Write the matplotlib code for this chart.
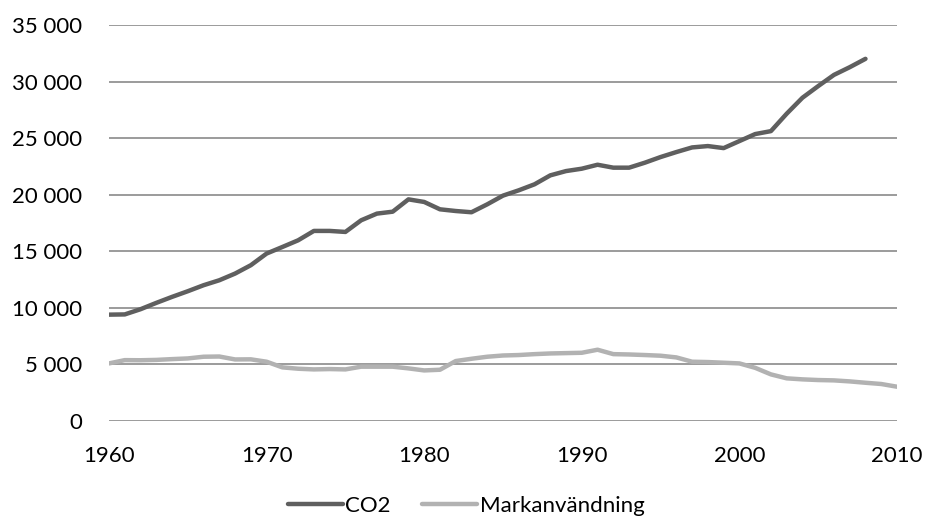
import matplotlib
matplotlib.use("Agg")
import matplotlib.pyplot as plt
from matplotlib.ticker import FuncFormatter

plt.rcParams['font.family'] = ['Lato', 'DejaVu Sans']

years_co2 = list(range(1960, 2009))
co2 = [9400, 9420, 9880, 10440, 10970, 11470, 12000, 12440, 13030, 13770,
       14800, 15380, 15970, 16800, 16800, 16710, 17740, 18330, 18500, 19590,
       19360, 18710, 18560, 18450, 19150, 19920, 20390, 20920, 21710, 22090,
       22300, 22650, 22390, 22390, 22830, 23330, 23770, 24180, 24300, 24120,
       24740, 25360, 25620, 27160, 28570, 29600, 30590, 31270, 32010]

years_land = list(range(1960, 2011))
land = [5090, 5380, 5370, 5400, 5470, 5530, 5680, 5700, 5440, 5450,
        5240, 4740, 4620, 4560, 4590, 4560, 4800, 4800, 4800, 4650,
        4470, 4530, 5300, 5500, 5680, 5790, 5830, 5910, 5970, 6000,
        6030, 6300, 5910, 5880, 5830, 5770, 5620, 5240, 5210, 5150,
        5090, 4700, 4120, 3770, 3680, 3620, 3590, 3500, 3380, 3270,
        3030]

series_names = ["CO2", "Markanvändning"]
y_ticks = list(range(0, 35001, 5000))
x_ticks = list(range(1960, 2011, 10))

fig = plt.figure(figsize=(9.25, 5.17), dpi=100)
ax = fig.add_axes([109 / 925, 96 / 517, 788 / 925, 396 / 517])

ax.plot(years_co2, co2, color="#5f5f5f", lw=3.2, solid_capstyle="round",
        solid_joinstyle="round", label=series_names[0], zorder=3)
ax.plot(years_land, land, color="#b2b2b2", lw=3.2, solid_capstyle="round",
        solid_joinstyle="round", label=series_names[1], zorder=2)

ax.set_xlim(1960, 2010)
ax.set_ylim(0, 35000)
ax.set_yticks(y_ticks)
ax.set_xticks(x_ticks)
ax.yaxis.set_major_formatter(FuncFormatter(lambda v, p: f"{int(v):,}".replace(",", " ")))

ax.grid(axis="y", color="#8a8a8a", lw=1.2)
ax.set_axisbelow(True)
for s in ax.spines.values():
    s.set_visible(False)
ax.tick_params(axis="both", length=0, labelsize=16, colors="black")
ax.tick_params(axis="y", pad=19)
ax.tick_params(axis="x", pad=18)

leg = fig.legend(loc="center", bbox_to_anchor=(466 / 925, 1 - 506 / 517),
                 ncol=2, frameon=False, fontsize=16, handlelength=2.5,
                 handletextpad=0.1, columnspacing=1.4)

fig.savefig("out.png", dpi=100)
